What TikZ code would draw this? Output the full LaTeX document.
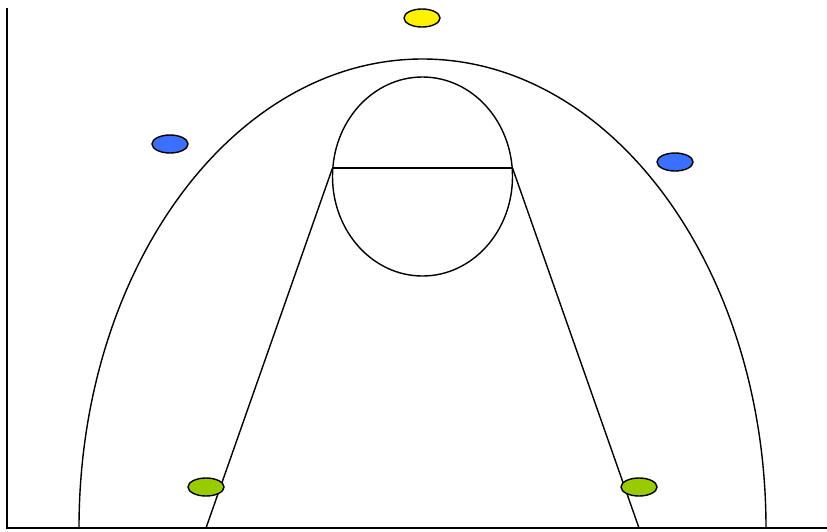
\documentclass[tikz,border=0pt]{standalone}
\usetikzlibrary{shapes.geometric}
\begin{document}
\begin{tikzpicture}[x=1pt,y=-1pt,line width=1.4pt,
  court/.style={draw=black,line width=1.4pt},
  player/.style={draw=black,line width=1.4pt,ellipse,minimum width=36pt,minimum height=18pt,inner sep=0pt},
  bluep/.style={player,fill={rgb,255:red,59;green,111;blue,255}},
  yellowp/.style={player,fill=yellow},
  greenp/.style={player,fill={rgb,255:red,153;green,204;blue,0}}]
\useasboundingbox (0,0) rectangle (827,531);
\coordinate (tl) at (7,8);
\coordinate (bl) at (7,528);
\coordinate (br) at (827,528);
\draw[court] (tl) -- (bl) -- (br);
% three point arc
\draw[court] (79,528) arc[start angle=180,end angle=0,x radius=343.5,y radius=-469];
% circle
\draw[court] (422.5,176.5) ellipse[x radius=90,y radius=99.5];
\coordinate (fl) at (332.5,168);
\coordinate (fr) at (512.5,168);
\coordinate (ll) at (206,528);
\coordinate (lr) at (639,528);
\draw[court] (fl) -- (fr);
\draw[court] (fl) -- (ll);
\draw[court] (fr) -- (lr);
% players
\node[yellowp] (p1) at (422,18) {};
\node[bluep] (p2) at (170,144) {};
\node[bluep] (p3) at (675,162) {};
\node[greenp] (p4) at (206,487) {};
\node[greenp] (p5) at (639,487) {};
\end{tikzpicture}
\end{document}
